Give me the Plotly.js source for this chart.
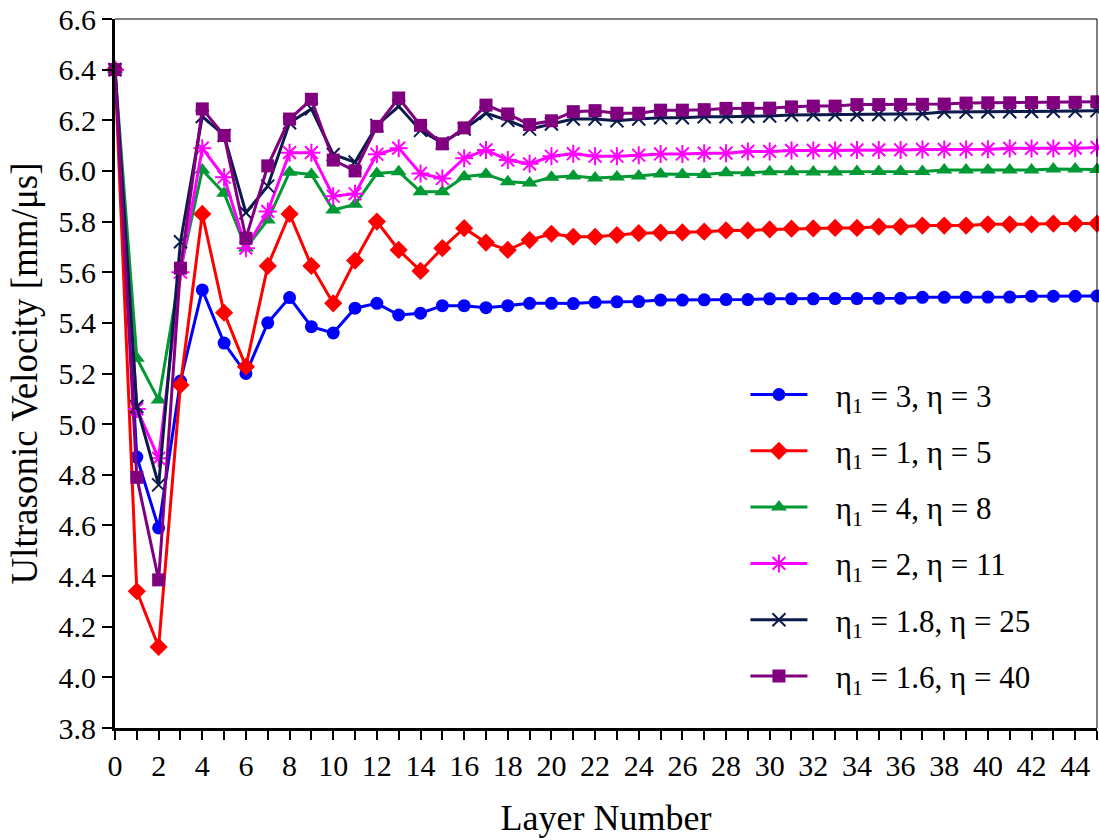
<!DOCTYPE html>
<html>
<head>
<meta charset="utf-8">
<script src="https://cdn.plot.ly/plotly-3.0.1.min.js"></script>
<style>html,body{margin:0;padding:0;background:#fff;}#chart{width:1099px;height:840px;}</style>
</head>
<body>
<div id="chart"></div>
<script>
const layers = [0,1,2,3,4,5,6,7,8,9,10,11,12,13,14,15,16,17,18,19,20,21,22,23,24,25,26,27,28,29,30,31,32,33,34,35,36,37,38,39,40,41,42,43,44,45];

const seriesNames = [
  "η<sub>1</sub> = 3, η = 3",
  "η<sub>1</sub> = 1, η = 5",
  "η<sub>1</sub> = 4, η = 8",
  "η<sub>1</sub> = 2, η = 11",
  "η<sub>1</sub> = 1.8, η = 25",
  "η<sub>1</sub> = 1.6, η = 40"
];

const blue = [6.40,4.87,4.59,5.17,5.53,5.32,5.20,5.40,5.50,5.385,5.36,5.458,5.477,5.431,5.438,5.468,5.468,5.46,5.468,5.477,5.477,5.476,5.481,5.483,5.484,5.49,5.49,5.491,5.492,5.492,5.495,5.495,5.495,5.496,5.496,5.497,5.497,5.501,5.501,5.501,5.502,5.502,5.505,5.505,5.505,5.506];
const red = [6.40,4.34,4.12,5.155,5.83,5.44,5.227,5.625,5.83,5.625,5.477,5.646,5.80,5.688,5.605,5.695,5.774,5.717,5.688,5.727,5.752,5.74,5.74,5.747,5.754,5.756,5.757,5.76,5.765,5.765,5.769,5.772,5.773,5.775,5.775,5.78,5.78,5.784,5.784,5.784,5.789,5.789,5.789,5.792,5.792,5.792];
const green = [6.40,5.26,5.095,5.61,6.004,5.912,5.696,5.806,5.995,5.986,5.846,5.868,5.99,5.997,5.918,5.918,5.977,5.987,5.957,5.952,5.975,5.98,5.972,5.976,5.98,5.988,5.986,5.986,5.993,5.993,5.997,5.997,5.996,5.996,5.998,5.998,5.998,5.998,6.004,6.004,6.004,6.004,6.004,6.008,6.008,6.006];
const magenta = [6.40,5.06,4.865,5.60,6.09,5.975,5.695,5.84,6.072,6.072,5.90,5.91,6.066,6.09,5.99,5.97,6.05,6.083,6.043,6.028,6.058,6.068,6.058,6.058,6.062,6.067,6.067,6.07,6.07,6.077,6.077,6.081,6.081,6.081,6.083,6.083,6.083,6.085,6.085,6.085,6.086,6.089,6.089,6.089,6.09,6.093];
const navy = [6.40,5.07,4.76,5.72,6.215,6.14,5.835,5.94,6.19,6.245,6.065,6.035,6.18,6.255,6.16,6.11,6.165,6.228,6.2,6.165,6.185,6.205,6.205,6.198,6.205,6.21,6.21,6.214,6.214,6.215,6.217,6.221,6.222,6.222,6.222,6.223,6.224,6.226,6.233,6.233,6.234,6.234,6.235,6.236,6.237,6.238];
const purple = [6.40,4.79,4.385,5.616,6.245,6.14,5.734,6.02,6.205,6.283,6.043,6.0,6.176,6.288,6.18,6.107,6.17,6.26,6.225,6.183,6.198,6.234,6.238,6.228,6.228,6.24,6.24,6.242,6.247,6.247,6.248,6.253,6.256,6.256,6.262,6.262,6.262,6.263,6.264,6.268,6.269,6.269,6.27,6.27,6.271,6.273];

const xTickVals = [0,2,4,6,8,10,12,14,16,18,20,22,24,26,28,30,32,34,36,38,40,42,44];
const xTickText = ["0","2","4","6","8","10","12","14","16","18","20","22","24","26","28","30","32","34","36","38","40","42","44"];
const yTickVals = [3.8,4.0,4.2,4.4,4.6,4.8,5.0,5.2,5.4,5.6,5.8,6.0,6.2,6.4,6.6];
const yTickText = ["3.8","4.0","4.2","4.4","4.6","4.8","5.0","5.2","5.4","5.6","5.8","6.0","6.2","6.4","6.6"];

const allSeries = [blue, red, green, magenta, navy, purple];
const colors = ["#0000FF", "#FF0000", "#009933", "#FF00FF", "#0B1A4B", "#800080"];
const symbols = ["circle", "diamond", "triangle-up", "asterisk-open", "x-thin-open", "square"];
const sizes = [13, 14, 14, 15, 13, 13];

const traces = allSeries.map((ys, i) => ({
  x: layers,
  y: ys,
  name: "\u00a0\u00a0\u00a0" + seriesNames[i],
  legendgroup: "g" + i,
  type: "scatter",
  mode: "lines+markers",
  cliponaxis: false,
  line: {color: colors[i], width: 3},
  marker: {symbol: symbols[i], size: sizes[i], color: colors[i], line: {color: colors[i], width: (i === 3 || i === 4) ? 2 : 0}}
}));

const serif = "Liberation Serif";

const layout = {
  width: 1099,
  height: 840,
  margin: {l: 115, r: 2, t: 19, b: 112},
  paper_bgcolor: "#ffffff",
  plot_bgcolor: "#ffffff",
  showlegend: true,
  legend: {
    x: 0.642, y: 0.508, xanchor: "left", yanchor: "top",
    font: {family: serif, size: 31, color: "#000"},
    bgcolor: "rgba(0,0,0,0)",
    traceorder: "grouped",
    tracegroupgap: 13,
    itemwidth: 57
  },
  xaxis: {
    range: [0, 45],
    tickmode: "array",
    tickvals: xTickVals,
    ticktext: xTickText,
    ticks: "outside", ticklen: 9, tickwidth: 2, tickcolor: "#000",
    minor: {dtick: 1, tick0: 0, ticks: "outside", ticklen: 9, tickwidth: 2, tickcolor: "#000"},
    showline: true, linewidth: 3, linecolor: "#000",
    showgrid: false, zeroline: false,
    tickfont: {family: serif, size: 30, color: "#000"},
    title: {text: "Layer Number", font: {family: serif, size: 36, color: "#000"}, standoff: 24}
  },
  yaxis: {
    range: [3.8, 6.6],
    tickmode: "array",
    tickvals: yTickVals,
    ticktext: yTickText,
    ticks: "outside", ticklen: 10, tickwidth: 2, tickcolor: "#000",
    showline: true, linewidth: 3, linecolor: "#000",
    showgrid: false, zeroline: false,
    tickfont: {family: serif, size: 30, color: "#000"},
    title: {text: "Ultrasonic Velocity [mm/μs]", font: {family: serif, size: 37, color: "#000"}, standoff: 10}
  },
  shapes: [
    {type: "line", xref: "paper", yref: "paper", x0: 0, x1: 1, y0: 1, y1: 1, line: {color: "#000", width: 1}},
    {type: "line", xref: "paper", yref: "paper", x0: 1, x1: 1, y0: 0, y1: 1, line: {color: "#000", width: 1}}
  ]
};

Plotly.newPlot("chart", traces, layout, {displayModeBar: false, staticPlot: true});
</script>
</body>
</html>
